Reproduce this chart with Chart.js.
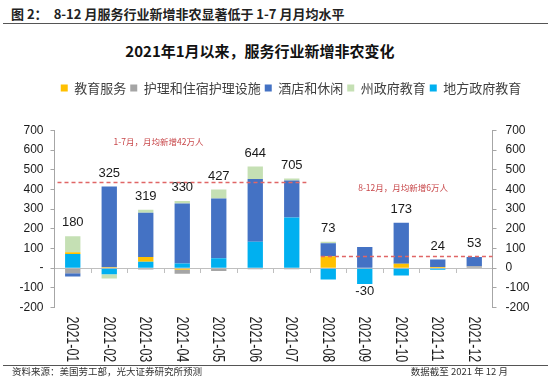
<!DOCTYPE html>
<html>
<head>
<meta charset="utf-8">
<script src="https://cdn.jsdelivr.net/npm/chart.js@4.4.0/dist/chart.umd.min.js"></script>
<style>
  body { margin: 0; width: 550px; height: 378px; background: #fff; position: relative; overflow: hidden; }
  #hd { position: absolute; left: 11px; top: 4px; font: bold 13px 'Noto Sans CJK SC'; color: #222; white-space: nowrap; }
  #hd span { margin-left: 6px; }
  .rule { position: absolute; left: 3px; width: 545px; height: 1px; background: #555; }
  #ttl { position: absolute; left: 0; width: 520px; top: 40px; text-align: center; font: bold 15px 'Noto Sans CJK SC'; color: #111; white-space: nowrap; }
  .ft { position: absolute; top: 364px; font: 9.5px 'Noto Sans CJK SC'; color: #333; white-space: nowrap; }
  canvas { position: absolute; left: 0; top: 0; }
</style>
</head>
<body>
<div id="hd">图 2：<span>8-12 月服务行业新增非农显著低于 1-7 月月均水平</span></div>
<div class="rule" style="top:23px"></div>
<div id="ttl">2021年1月以来，服务行业新增非农变化</div>
<canvas id="grafico" width="550" height="378"></canvas>
<div class="rule" style="top:365px"></div>
<div class="ft" style="left:12px">资料来源：美国劳工部，光大证券研究所预测</div>
<div class="ft" style="right:42px">数据截至 2021 年 12 月</div>
<script>
// dados (mil pessoas)
const categorias = ['2021-01', '2021-02', '2021-03', '2021-04', '2021-05', '2021-06',
                    '2021-07', '2021-08', '2021-09', '2021-10', '2021-11', '2021-12'];
const educacaoServ = [9, 5, 24, -8, 0, 0, 0, 60, 0, 22, 6, 0];
const enfermagem = [-26, 0, -7, -20, -14, -6, -6, 0, 0, 0, 0, 10];
const lazer = [-17, 410, 225, 305, 304, 319, 189, 67, 108, 209, 38, 47];
const educEstadual = [81, -22, 15, 12, 46, 64, 10, 7, 0, 0, 0, 0];
const educLocal = [72, -31, 33, 24, 50, 134, 257, -58, -80, -37, -8, 0];
const totais = [180, 325, 319, 330, 427, 644, 705, 73, -30, 173, 24, 53];
const medias = [440, 61];
const textosMedia = ['1-7月，月均新增42万人', '8-12月，月均新增6万人'];

const corEixo = '#a6a6a6';

// linhas de média, rótulos de total e rótulos das categorias
const extras = {
    id: 'extras',
    afterDatasetsDraw(chart) {
        const ctx = chart.ctx;
        const x = chart.scales.x;
        const y = chart.scales.y;
        const area = chart.chartArea;
        const passo = x.getPixelForValue(1) - x.getPixelForValue(0);

        ctx.save();
        // linhas tracejadas
        ctx.strokeStyle = '#e06666';
        ctx.lineWidth = 1.5;
        ctx.setLineDash([4, 3]);
        const trechos = [
            [area.left + 3, x.getPixelForValue(6) + 0.4 * passo],
            [x.getPixelForValue(7) - 0.2 * passo, area.right]
        ];
        medias.forEach((m, i) => {
            const py = Math.round(y.getPixelForValue(m)) + 0.5;
            ctx.beginPath();
            ctx.moveTo(trechos[i][0], py);
            ctx.lineTo(trechos[i][1], py);
            ctx.stroke();
        });
        ctx.setLineDash([]);

        // textos das médias
        ctx.fillStyle = '#c8474a';
        ctx.font = '8.5px "Noto Sans CJK SC"';
        ctx.textAlign = 'center';
        ctx.textBaseline = 'middle';
        ctx.fillText(textosMedia[0], x.getPixelForValue(2) + 0.35 * passo, y.getPixelForValue(medias[0]) - 40);
        ctx.fillText(textosMedia[1], x.getPixelForValue(9) + 0.05 * passo, y.getPixelForValue(medias[1]) - 68);

        // totais acima / abaixo das barras
        const series = [educacaoServ, enfermagem, lazer, educEstadual, educLocal];
        ctx.fillStyle = '#1a1a1a';
        ctx.font = '13px "Liberation Sans"';
        totais.forEach((t, i) => {
            let pos = 0, neg = 0;
            series.forEach(s => { if (s[i] > 0) pos += s[i]; else neg += s[i]; });
            const px = x.getPixelForValue(i);
            if (t >= 0) {
                ctx.fillText(String(t), px, y.getPixelForValue(pos) - 13.5);
            } else {
                ctx.fillText(String(t), px, y.getPixelForValue(neg) + 8);
            }
        });

        // categorias giradas 90 graus (lendo de cima para baixo)
        ctx.font = '16px "Liberation Sans"';
        ctx.textAlign = 'left';
        categorias.forEach((c, i) => {
            ctx.save();
            ctx.translate(x.getPixelForValue(i) - 1, area.bottom + 9);
            ctx.rotate(Math.PI / 2);
            ctx.scale(0.78, 1);
            ctx.fillText(c, 0, 0);
            ctx.restore();
        });
        ctx.restore();
    }
};

// espaço extra abaixo da legenda e deslocamento para a direita
const margemLegenda = {
    id: 'margemLegenda',
    beforeInit(chart) {
        const fitOriginal = chart.legend.fit;
        chart.legend.fit = function () {
            fitOriginal.bind(chart.legend)();
            this.height += 26;
        };
    },
    afterLayout(chart) {
        chart.legend.left += 16;
        chart.legend.right += 16;
    }
};

const eixoY = (lado, zeroTxt, largura) => ({
    position: lado,
    stacked: true,
    min: -200,
    max: 700,
    ticks: {
        stepSize: 100,
        padding: lado === 'left' ? 7 : 9,
        color: '#1a1a1a',
        font: { family: 'Liberation Sans', size: 12 },
        callback: v => (v === 0 ? zeroTxt : v)
    },
    grid: { drawOnChartArea: false, drawTicks: true, tickLength: 4, color: corEixo },
    border: { display: true, color: corEixo },
    afterFit(scale) { scale.width = largura; }
});

const ctxBarra = document.getElementById('grafico').getContext('2d');
const graficoBarra = new Chart(ctxBarra, {
    type: 'bar',
    data: {
        labels: categorias,
        datasets: [
            { label: '教育服务', data: educacaoServ, backgroundColor: '#ffc000', order: 2 },
            { label: '护理和住宿护理设施', data: enfermagem, backgroundColor: '#a5a5a5', order: 3 },
            { label: '酒店和休闲', data: lazer, backgroundColor: '#4472c4', order: 4 },
            { label: '州政府教育', data: educEstadual, backgroundColor: '#c5e0b4', order: 5 },
            { label: '地方政府教育', data: educLocal, backgroundColor: '#00b0f0', order: 1 }
        ]
    },
    options: {
        responsive: false,
        animation: false,
        devicePixelRatio: 1,
        categoryPercentage: 1,
        barPercentage: 0.42,
        layout: { padding: { left: 0, right: 0, top: 77.5, bottom: 70.5 } },
        plugins: {
            tooltip: { enabled: false },
            legend: {
                position: 'top',
                labels: {
                    boxWidth: 7,
                    boxHeight: 7,
                    padding: 4,
                    color: '#404040',
                    font: { family: 'Noto Sans CJK SC', size: 13 },
                    sort: (a, b) => a.datasetIndex - b.datasetIndex
                }
            }
        },
        scales: {
            x: {
                stacked: true,
                position: { y: 0 },
                ticks: { display: false },
                grid: { drawOnChartArea: false, drawTicks: true, tickLength: 4, color: '#bfbfbf', offset: true },
                border: { display: true, color: '#bfbfbf' }
            },
            y: eixoY('left', '-', 54.5),
            y2: eixoY('right', '0', 57.5)
        }
    },
    plugins: [margemLegenda, extras]
});
</script>
</body>
</html>
